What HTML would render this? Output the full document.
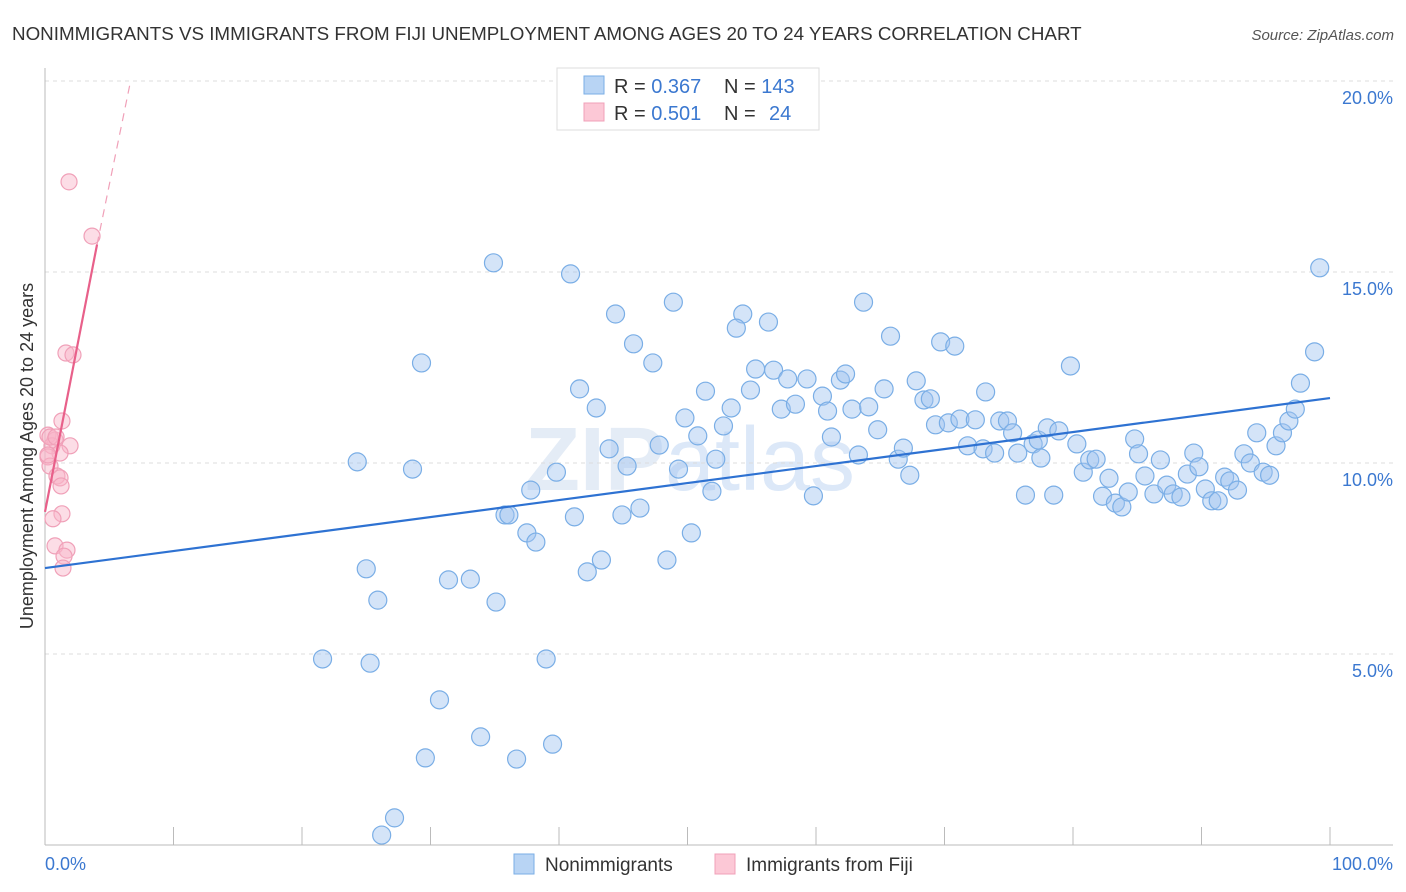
<!DOCTYPE html>
<html><head><meta charset="utf-8"><style>
body{margin:0;background:#fff;font-family:"Liberation Sans",sans-serif;}
svg{display:block}
</style></head><body>
<svg id="chart" width="1406" height="892" xmlns="http://www.w3.org/2000/svg">
<text x="12" y="40" font-size="18.8" fill="#333">NONIMMIGRANTS VS IMMIGRANTS FROM FIJI UNEMPLOYMENT AMONG AGES 20 TO 24 YEARS CORRELATION CHART</text>
<text x="1394" y="40" font-size="15" fill="#555" text-anchor="end" font-style="italic">Source: ZipAtlas.com</text>
<text x="690" y="490" font-size="90" fill="#e4ecf6" text-anchor="middle" font-weight="bold">ZIP<tspan fill="#dce8f8" font-weight="normal">atlas</tspan></text>
<g id="grid"></g>
<g id="axes"></g>
<g id="marks"></g>
<text transform="translate(33,456) rotate(-90)" font-size="18" fill="#333" text-anchor="middle">Unemployment Among Ages 20 to 24 years</text>
<text x="45" y="870" font-size="18" fill="#3b78d0">0.0%</text>
<text x="1393" y="870" font-size="18" fill="#3b78d0" text-anchor="end">100.0%</text>
<g>
<rect x="557" y="68" width="262" height="62" fill="#fff" stroke="#ddd"/>
<rect x="584" y="76" width="20" height="18" fill="#b8d4f4" stroke="#7aaee6"/>
<rect x="584" y="103" width="20" height="18" fill="#fcc8d6" stroke="#f0a0b8"/>
<text x="614" y="93" font-size="20" fill="#333">R = <tspan fill="#3b78d0">0.367</tspan></text>
<text x="724" y="93" font-size="20" fill="#333">N = <tspan fill="#3b78d0">143</tspan></text>
<text x="614" y="120" font-size="20" fill="#333">R = <tspan fill="#3b78d0">0.501</tspan></text>
<text x="724" y="120" font-size="20" fill="#333">N = <tspan fill="#3b78d0" x="769">24</tspan></text>
</g>
<g>
<rect x="514" y="854" width="20" height="20" fill="#b8d4f4" stroke="#7aaee6"/>
<text x="545" y="871" font-size="19" fill="#333">Nonimmigrants</text>
<rect x="715" y="854" width="20" height="20" fill="#fcc8d6" stroke="#f0a0b8"/>
<text x="746" y="871" font-size="19" fill="#333">Immigrants from Fiji</text>
</g>
</svg>
<script>
const yTicks=[5,10,15,20];
const yTickLabels=["5.0%","10.0%","15.0%","20.0%"];
const xTicks=[0,10,20,30,40,50,60,70,80,90,100];
const blueX=[34.9,40.9,44.4,48.9,29.3,45.8,47.3,54.3,53.8,56.3,63.7,65.8,69.7,70.8,79.8,99.2,98.8,24.3,28.6,41.6,42.9,43.9,45.3,39.8,37.8,35.8,36.1,37.5,38.2,41.2,44.9,46.3,48.4,50.3,43.3,42.2,25.0,25.9,31.4,33.1,35.1,21.6,25.3,39.0,30.7,33.9,29.6,36.7,39.5,27.2,26.2,47.8,49.8,50.8,49.3,51.9,51.4,52.8,52.2,53.4,54.9,55.3,56.7,57.8,57.3,58.4,59.3,59.8,60.5,60.9,61.2,61.9,62.3,62.8,64.1,64.8,65.3,63.3,66.4,66.8,67.3,67.8,68.4,68.9,69.3,70.3,71.2,71.8,72.4,73.0,73.2,73.9,74.3,74.9,75.3,75.7,76.3,76.9,77.3,77.5,78.0,78.5,78.9,80.3,80.8,81.3,81.8,82.3,82.8,83.3,83.8,84.3,84.8,85.1,85.6,86.3,86.8,87.3,87.8,88.4,88.9,89.4,89.8,90.3,90.8,91.3,91.8,92.2,92.8,93.3,93.8,94.3,94.8,95.3,95.8,96.3,96.8,97.3,97.7]; 
const blueY=[15.24,14.95,13.9,14.21,12.62,13.12,12.62,13.9,13.53,13.69,14.21,13.32,13.17,13.06,12.54,15.11,12.91,10.03,9.84,11.94,11.44,10.37,9.92,9.76,9.29,8.64,8.64,8.17,7.93,8.59,8.64,8.82,7.46,8.17,7.46,7.15,7.23,6.41,6.94,6.96,6.36,4.87,4.76,4.87,3.80,2.83,2.28,2.25,2.64,0.71,0.26,10.47,11.18,10.71,9.84,9.26,11.88,10.97,10.1,11.44,11.91,12.46,12.43,12.20,11.41,11.54,12.20,9.14,11.75,11.36,10.68,12.17,12.33,11.41,11.47,10.87,11.94,10.21,10.10,10.39,9.68,12.15,11.65,11.68,11.0,11.05,11.15,10.45,11.13,10.37,11.86,10.26,11.10,11.10,10.79,10.26,9.16,10.5,10.60,10.13,10.92,9.16,10.84,10.5,9.76,10.08,10.1,9.13,9.60,8.95,8.85,9.24,10.63,10.24,9.66,9.19,10.08,9.42,9.19,9.11,9.71,10.26,9.90,9.32,9.01,9.01,9.63,9.53,9.29,10.24,10.00,10.79,9.76,9.68,10.45,10.79,11.10,11.41,12.09,11.73];
const pinkX=[1.87,3.66,1.63,2.18,1.32,0.23,0.78,0.54,1.95,1.17,0.23,0.39,0.93,1.17,1.25,1.32,0.62,0.78,1.71,1.48,1.40,0.39,0.86,0.23];
const pinkY=[17.36,15.94,12.88,12.83,11.10,10.73,10.60,10.45,10.45,10.26,10.16,9.92,9.66,9.61,9.40,8.67,8.54,7.83,7.72,7.56,7.25,10.68,10.68,10.21];
const blueLine=[[0,7.25],[100,11.7]];
const pinkSolid=[[0,8.72],[4.05,15.72]];
const pinkDash=[[4.05,15.72],[6.6,19.9]];
const X=v=>45+v*12.85, Y=v=>845-v*38.2;
const NS="http://www.w3.org/2000/svg";
function mk(t,a,p){const e=document.createElementNS(NS,t);for(const k in a)e.setAttribute(k,a[k]);p.appendChild(e);return e;}
const grid=document.getElementById('grid'),axes=document.getElementById('axes'),marks=document.getElementById('marks');
yTicks.forEach((t,i)=>{
 const l=mk('line',{x1:45,x2:1393,y1:Y(t),y2:Y(t),stroke:'#ddd','stroke-dasharray':'4,4'},grid);
 
 
 const tx=mk('text',{x:1393,y:Y(t)+23,'font-size':18,fill:'#3b78d0','text-anchor':'end'},axes);
 tx.textContent=yTickLabels[i];
 
 
});
const ax=mk('line',{x1:45,x2:45,y1:68,y2:845,stroke:'#bbb'},axes);


const bx=mk('line',{x1:45,x2:1393,y1:845,y2:845,stroke:'#bbb'},axes);


xTicks.forEach(t=>{
 const l=mk('line',{x1:X(t),x2:X(t),y1:827,y2:845,stroke:'#bbb'},axes);
 
 
});
blueX.forEach((v,i)=>{
 const c=mk('circle',{cx:X(v),cy:Y(blueY[i]),r:9,fill:'rgba(160,196,240,0.45)',stroke:'#7aaee6','stroke-width':1.2},marks);
 
 
});
pinkX.forEach((v,i)=>{
 const c=mk('circle',{cx:X(v),cy:Y(pinkY[i]),r:8,fill:'rgba(248,180,200,0.45)',stroke:'#f0a0b8','stroke-width':1.2},marks);
 
 
});
const bl=mk('line',{x1:X(blueLine[0][0]),y1:Y(blueLine[0][1]),x2:X(blueLine[1][0]),y2:Y(blueLine[1][1]),stroke:'#2e72d2','stroke-width':2.2},marks);


const ps=mk('line',{x1:X(pinkSolid[0][0]),y1:Y(pinkSolid[0][1]),x2:X(pinkSolid[1][0]),y2:Y(pinkSolid[1][1]),stroke:'#e8608a','stroke-width':2.2},marks);


const pd=mk('line',{x1:X(pinkDash[0][0]),y1:Y(pinkDash[0][1]),x2:X(pinkDash[1][0]),y2:Y(pinkDash[1][1]),stroke:'#f0a0b8','stroke-width':1.2,'stroke-dasharray':'8,6'},marks);


</script>
</body></html>
